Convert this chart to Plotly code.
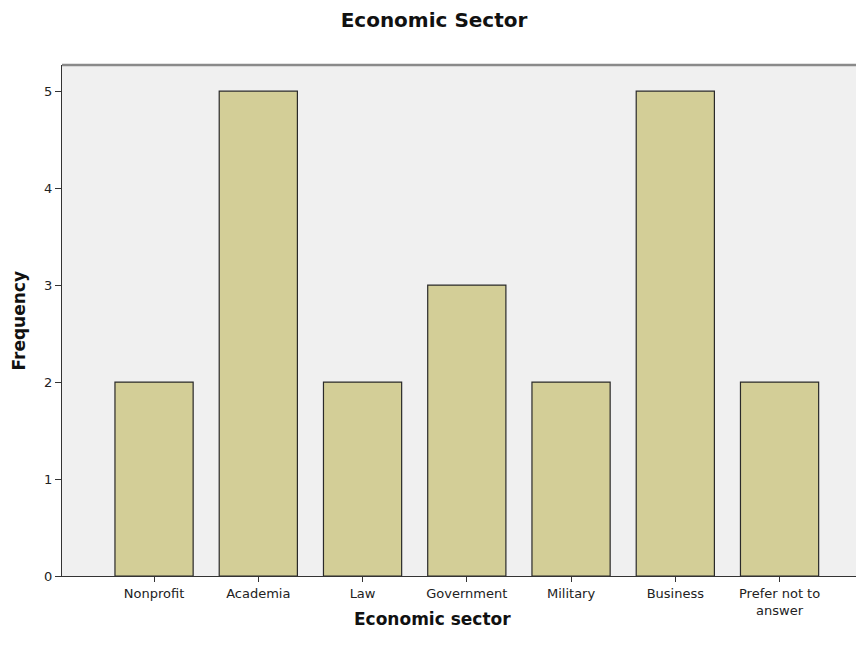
import plotly.graph_objects as go

categories = ["Nonprofit", "Academia", "Law", "Government", "Military", "Business", "Prefer not to<br>answer"]
frequency = [2, 5, 2, 3, 2, 5, 2]
y_ticks = [0, 1, 2, 3, 4, 5]

W, H = 856, 640
L, R, T, B = 54, 0, 57, 72

fig = go.Figure()
fig.add_trace(go.Bar(
    x=list(range(len(categories))), y=frequency, width=0.75,
    marker=dict(color="#d3ce97", line=dict(color="#2a2a2a", width=1.2)),
))

fig.update_layout(
    width=W, height=H,
    margin=dict(l=L, r=R, t=T, b=B),
    paper_bgcolor="white", plot_bgcolor="#f0f0f0",
    font=dict(family="DejaVu Sans, sans-serif", size=13, color="#222"),
    title=dict(text="<b>Economic Sector</b>", x=(434 - 8) / W, xref="container", xanchor="center",
               y=1 - 12 / H, yref="container", yanchor="middle",
               font=dict(size=20, color="#111")),
    showlegend=False,
    xaxis=dict(
        range=[-0.883, 6.81], tickmode="array", tickvals=list(range(len(categories))),
        ticktext=categories, ticks="outside", ticklen=5, tickcolor="#333", tickwidth=1.3,
        showgrid=False, zeroline=False, showline=True, linecolor="#333", linewidth=1.3,
        tickfont=dict(size=13, color="#222"),
    ),
    yaxis=dict(
        range=[0, 5.27], tickmode="array", tickvals=y_ticks, ticks="outside", ticklen=6,
        tickcolor="#333", tickwidth=1.3, showgrid=False, zeroline=False, showline=True,
        linecolor="#333", linewidth=1.3,
        tickfont=dict(size=13, color="#222"),
    ),
    shapes=[dict(type="line", xref="paper", yref="paper", x0=0, x1=1, y0=1, y1=1,
                 line=dict(color="#8a8a8a", width=2.5))],
    annotations=[
        dict(text="<b>Economic sector</b>", xref="paper", yref="paper",
             x=(432 - 8 - L) / (W - L - R), y=-(611 - (H - B)) / (H - T - B),
             xanchor="center", yanchor="middle", showarrow=False,
             font=dict(size=17, color="#111")),
        dict(text="<b>Frequency</b>", xref="paper", yref="paper",
             x=-(L - 10) / (W - L - R), y=0.5, textangle=-90,
             xanchor="center", yanchor="middle", showarrow=False,
             font=dict(size=17, color="#111")),
    ],
)

fig.write_html("out.html")
